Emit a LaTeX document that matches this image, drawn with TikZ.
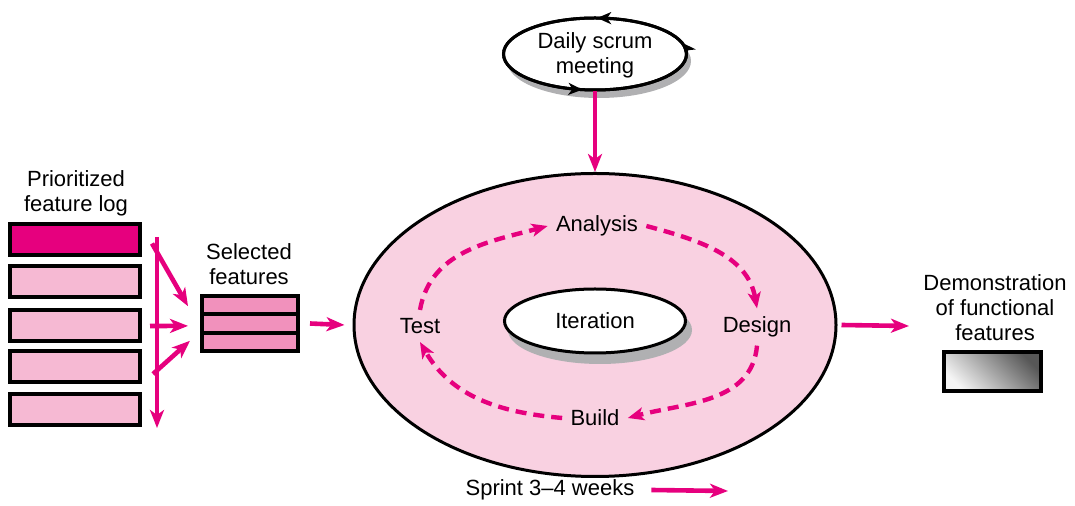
\documentclass[tikz,border=0pt]{standalone}
\usepackage{fontspec}
\setmainfont{Liberation Sans}
\usepackage{tikz}
\usetikzlibrary{shapes,arrows.meta,decorations.markings,positioning}

\definecolor{scrumred}{HTML}{E6007E}
\definecolor{ringpink}{HTML}{F9D1E1}
\definecolor{logpink}{HTML}{F6B9D3}
\definecolor{selpink}{HTML}{F191BC}
\definecolor{shadegray}{HTML}{B0B0B2}

\begin{document}
\begin{tikzpicture}[x=0.5pt, y=-0.5pt,
	font=\fontsize{11}{12.5}\selectfont,
	logbox/.style={draw, line width=2pt, fill=logpink, minimum width=65pt, minimum height=15.5pt, inner sep=0},
	selbox/.style={draw, line width=2pt, fill=selpink, minimum width=48pt, minimum height=9.17pt, inner sep=0},
	flow/.style={draw=scrumred, line width=2.3pt, -{Stealth[length=9pt,width=7pt,inset=2.5pt]}},
	loopflow/.style={draw=scrumred, line width=2.2pt, dash pattern=on 5.5pt off 3.5pt, -{Stealth[length=8pt,width=6.5pt,inset=2pt]}},
	phase/.style={inner sep=4pt},
	oval/.style={ellipse, draw, line width=1.5pt, inner sep=0}
]
\useasboundingbox (0,0) rectangle (1075,506);

% prioritized feature log
\node[align=center] (logtxt) at (76,193) {Prioritized\\feature log};
\node[logbox, fill=scrumred] (log1) at (75,239.5) {};
\node[logbox] (log2) at (75,282) {};
\node[logbox] (log3) at (75,326) {};
\node[logbox] (log4) at (75,367) {};
\node[logbox] (log5) at (75,409.5) {};

\coordinate (vtop) at (157,237);
\coordinate (vbot) at (157,428);
\draw[flow] (vtop) -- (vbot);

% selected features
\node[align=center] (seltxt) at (249,264) {Selected\\features};
\node[selbox] (sel1) at (250,305.2) {};
\node[selbox] (sel2) at (250,323.5) {};
\node[selbox] (sel3) at (250,341.8) {};

\draw[flow] ([shift={(5pt,-2pt)}]log1.east) -- ([shift={(-6pt,-0.5pt)}]sel1.west);
\draw[flow] ([xshift=4pt]log3.east) -- ([shift={(-6pt,-1.2pt)}]sel2.west);
\draw[flow] ([shift={(5.5pt,-3.5pt)}]log4.east) -- ([shift={(-5pt,0.5pt)}]sel3.west);

% sprint
\node[oval, fill=ringpink, minimum width=241pt, minimum height=151.5pt] (sprint) at (595,325) {};
\fill[shadegray] (600,330) ellipse [x radius=46pt, y radius=17pt];
\node[oval, fill=white, minimum width=90.5pt, minimum height=32pt] (iter) at (595,321) {Iteration};

\node[phase] (analysis) at (597,226) {Analysis};
\node[phase] (design) at (757,327) {Design};
\node[phase] (build) at (595,418) {Build};
\node[phase] (test) at (420,326) {Test};

\draw[loopflow] (test.north) to[out=80,in=195] (analysis.west);
\draw[loopflow] (analysis.east) to[out=-15,in=100] (design.north);
\draw[loopflow] (design.south) to[out=-95,in=15] (build.east);
\draw[loopflow] (build.west) to[out=175,in=-60] (test.south);

% daily scrum
\fill[shadegray] (599,61) ellipse [x radius=46pt, y radius=18.5pt];
\node[oval, fill=white, minimum width=91.5pt, minimum height=36pt] (scrum) at (595,54) {};
\draw[line width=1.5pt, postaction=decorate, decoration={markings,
	mark=at position 0.03 with {\arrow{Stealth[length=7pt,width=6pt,inset=2pt]}},
	mark=at position 0.245 with {\arrow{Stealth[length=7pt,width=6pt,inset=2pt]}},
	mark=at position 0.72 with {\arrow{Stealth[length=7pt,width=6pt,inset=2pt]}}}]
	(scrum.center) ellipse [x radius=45.75pt, y radius=18pt];
\node[align=center] (scrumtxt) at (595,55) {Daily scrum\\meeting};

\draw[flow] (scrum.south) -- (sprint.north);
\draw[flow] ([xshift=5pt]sel2.east) -- ([xshift=-4pt]sprint.west);

% demonstration
\node[align=center] (demotxt) at (995,308) {Demonstration\\of functional\\features};
\node[draw, line width=2pt, top color=black!4, bottom color=black!66, shading angle=135, minimum width=48.5pt, minimum height=19.5pt, inner sep=0] (demo) at (992.5,371.5) {};
\coordinate (demoin) at (909,326);
\draw[flow] ([xshift=2pt]sprint.east) -- (demoin);

% sprint length
\node (sprintlbl) at (550,490) {Sprint 3--4 weeks};
\coordinate (sprintend) at (728,491);
\draw[flow] ([xshift=5pt]sprintlbl.east) -- (sprintend);
\end{tikzpicture}
\end{document}
